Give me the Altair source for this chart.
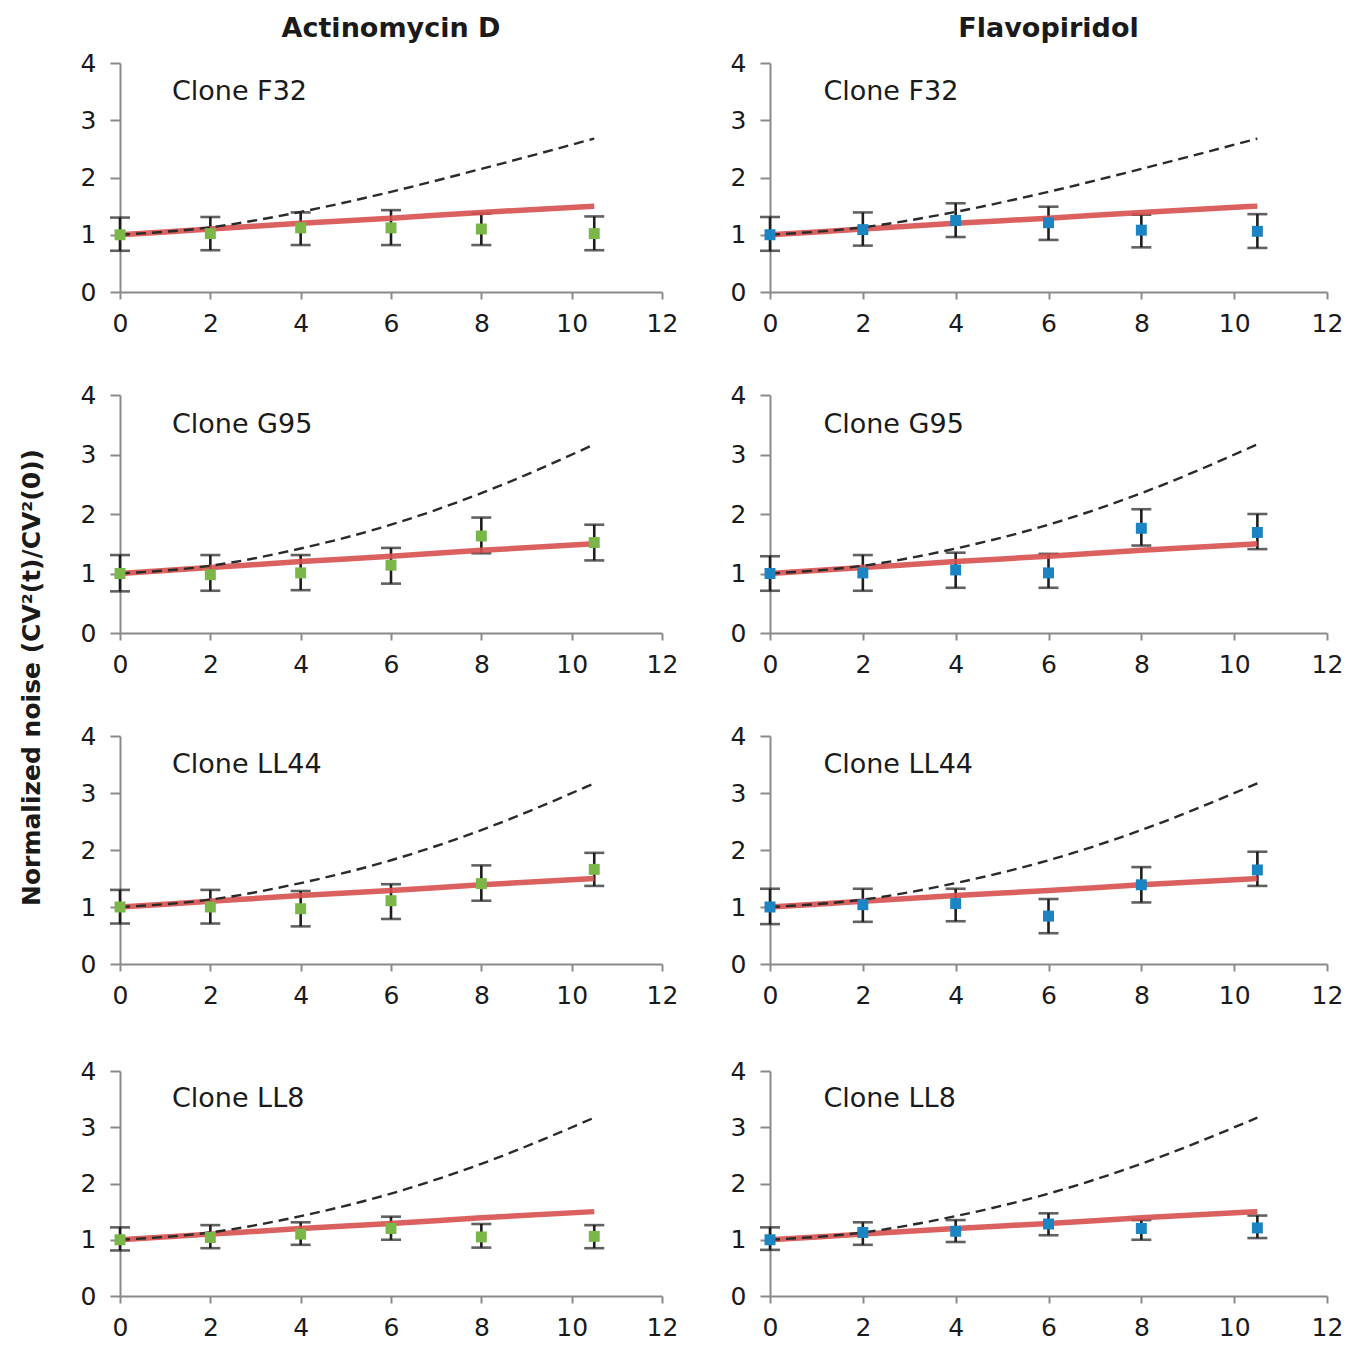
import altair as alt
import pandas as pd

# ---------------- data ----------------
t = [0, 2, 4, 6, 8, 10.5]
clones = ["F32", "G95", "LL44", "LL8"]
treatments = ["Actinomycin D", "Flavopiridol"]

# Actinomycin D (green)
actd_F32_mean = [1.00, 1.02, 1.12, 1.12, 1.10, 1.02]
actd_F32_lo = [0.72, 0.73, 0.82, 0.82, 0.82, 0.73]
actd_F32_hi = [1.30, 1.31, 1.39, 1.43, 1.37, 1.32]
actd_G95_mean = [1.00, 0.98, 1.01, 1.14, 1.63, 1.52]
actd_G95_lo = [0.70, 0.71, 0.72, 0.83, 1.34, 1.22]
actd_G95_hi = [1.31, 1.31, 1.31, 1.43, 1.94, 1.82]
actd_LL44_mean = [1.00, 1.00, 0.97, 1.11, 1.41, 1.66]
actd_LL44_lo = [0.71, 0.71, 0.66, 0.79, 1.11, 1.37]
actd_LL44_hi = [1.30, 1.30, 1.28, 1.40, 1.73, 1.95]
actd_LL8_mean = [1.00, 1.04, 1.10, 1.20, 1.05, 1.06]
actd_LL8_lo = [0.81, 0.85, 0.91, 1.00, 0.86, 0.85]
actd_LL8_hi = [1.22, 1.26, 1.31, 1.41, 1.28, 1.26]

# Flavopiridol (blue)
flavo_F32_mean = [1.00, 1.09, 1.25, 1.21, 1.08, 1.06]
flavo_F32_lo = [0.72, 0.81, 0.96, 0.91, 0.78, 0.77]
flavo_F32_hi = [1.31, 1.39, 1.55, 1.49, 1.35, 1.36]
flavo_G95_mean = [1.00, 1.01, 1.06, 1.01, 1.76, 1.69]
flavo_G95_lo = [0.71, 0.71, 0.76, 0.76, 1.47, 1.41]
flavo_G95_hi = [1.29, 1.31, 1.35, 1.33, 2.08, 2.00]
flavo_LL44_mean = [1.00, 1.04, 1.06, 0.84, 1.39, 1.65]
flavo_LL44_lo = [0.70, 0.74, 0.75, 0.54, 1.08, 1.37]
flavo_LL44_hi = [1.32, 1.32, 1.32, 1.14, 1.70, 1.97]
flavo_LL8_mean = [1.00, 1.13, 1.15, 1.28, 1.20, 1.21]
flavo_LL8_lo = [0.82, 0.91, 0.96, 1.08, 1.00, 1.03]
flavo_LL8_hi = [1.22, 1.31, 1.35, 1.47, 1.35, 1.43]

# model curves
model_t = [0, 2, 4, 6, 8, 10.5]
red_model = [1.00, 1.10, 1.20, 1.29, 1.39, 1.50]
dashed_F32 = [1.00, 1.13, 1.40, 1.75, 2.15, 2.68]
dashed_other = [1.00, 1.13, 1.42, 1.82, 2.35, 3.17]

x_ticks = [0, 2, 4, 6, 8, 10, 12]
y_ticks = [0, 1, 2, 3, 4]

data = {
    ("Actinomycin D", "F32"): (actd_F32_mean, actd_F32_lo, actd_F32_hi),
    ("Actinomycin D", "G95"): (actd_G95_mean, actd_G95_lo, actd_G95_hi),
    ("Actinomycin D", "LL44"): (actd_LL44_mean, actd_LL44_lo, actd_LL44_hi),
    ("Actinomycin D", "LL8"): (actd_LL8_mean, actd_LL8_lo, actd_LL8_hi),
    ("Flavopiridol", "F32"): (flavo_F32_mean, flavo_F32_lo, flavo_F32_hi),
    ("Flavopiridol", "G95"): (flavo_G95_mean, flavo_G95_lo, flavo_G95_hi),
    ("Flavopiridol", "LL44"): (flavo_LL44_mean, flavo_LL44_lo, flavo_LL44_hi),
    ("Flavopiridol", "LL8"): (flavo_LL8_mean, flavo_LL8_lo, flavo_LL8_hi),
}
point_color = {"Actinomycin D": "#7ab648", "Flavopiridol": "#1b84c2"}

FONT = "DejaVu Sans"
row_heights = {"F32": 229, "G95": 238, "LL44": 228, "LL8": 225}
col_widths = {"Actinomycin D": 542, "Flavopiridol": 557}


def panel(treat, clone):
    mean, lo, hi = data[(treat, clone)]
    pts = pd.DataFrame({"t": t, "mean": mean, "lo": lo, "hi": hi})
    dashed = dashed_F32 if clone == "F32" else dashed_other
    model = pd.DataFrame({"t": model_t, "red": red_model, "dash": dashed})
    lab = pd.DataFrame({"t": [1.15], "y": [3.5], "label": ["Clone " + clone]})

    xs = alt.Scale(domain=[0, 12], nice=False)
    ys = alt.Scale(domain=[0, 4], nice=False)
    xax = alt.Axis(values=x_ticks, title=None, tickSize=7, labelPadding=12,
                   labelFlush=False, labelOverlap=False)
    yax = alt.Axis(values=y_ticks, title=None, tickSize=10, labelPadding=14,
                   labelFlush=False, labelOverlap=False)

    X = alt.X("t:Q", scale=xs, axis=xax)
    base = alt.Chart(pts)
    rules = base.mark_rule(color="#1e1e1e", strokeWidth=2.6).encode(
        x=X, y=alt.Y("lo:Q", scale=ys, axis=yax), y2="hi:Q")
    cap_lo = base.mark_tick(color="#1e1e1e", thickness=2.6, size=20, orient="horizontal").encode(
        x=X, y=alt.Y("lo:Q", scale=ys, axis=yax))
    cap_hi = base.mark_tick(color="#1e1e1e", thickness=2.6, size=20, orient="horizontal").encode(
        x=X, y=alt.Y("hi:Q", scale=ys, axis=yax))
    red = alt.Chart(model).mark_line(color="#d6504e", strokeWidth=5.5, opacity=0.9,
                                     interpolate="monotone").encode(
        x=X, y=alt.Y("red:Q", scale=ys, axis=yax))
    dash = alt.Chart(model).mark_line(color="#2a2a2a", strokeWidth=2.4, strokeDash=[10, 6],
                                      interpolate="monotone").encode(
        x=X, y=alt.Y("dash:Q", scale=ys, axis=yax))
    points = base.mark_square(color=point_color[treat], size=120, opacity=1).encode(
        x=X, y=alt.Y("mean:Q", scale=ys, axis=yax))
    text = alt.Chart(lab).mark_text(align="left", baseline="middle", font=FONT,
                                    fontSize=27, color="#1a1a1a").encode(
        x=X, y=alt.Y("y:Q", scale=ys, axis=yax), text="label:N")

    props = dict(width=col_widths[treat], height=row_heights[clone])
    if clone == "F32":
        props["title"] = alt.TitleParams(treat, anchor="middle", frame="group", font=FONT,
                                         fontSize=27, fontWeight="bold", color="#1a1a1a",
                                         offset=8)
    return alt.layer(rules, cap_lo, cap_hi, red, dash, points, text).properties(**props)


rows = [alt.hconcat(*[panel(tr, cl) for tr in treatments], spacing=52) for cl in clones]

upper = alt.vconcat(*rows[:3], spacing=47)
chart = alt.vconcat(upper, rows[3], spacing=51).properties(
    title=alt.TitleParams("Normalized noise (CV²(t)/CV²(0))", orient="left", anchor="middle",
                          font=FONT, fontSize=25, fontWeight="bold", color="#1a1a1a", offset=35),
    padding={"left": 12, "top": 7, "right": 5, "bottom": 5},
).configure_axis(
    labelFont=FONT, labelFontSize=25, labelColor="#1a1a1a",
    domainColor="#8a8a8a", domainWidth=2, tickColor="#8a8a8a", tickWidth=2, grid=False,
).configure_view(stroke=None)

chart.save("out.html", embed_options={"renderer": "svg", "actions": False})
